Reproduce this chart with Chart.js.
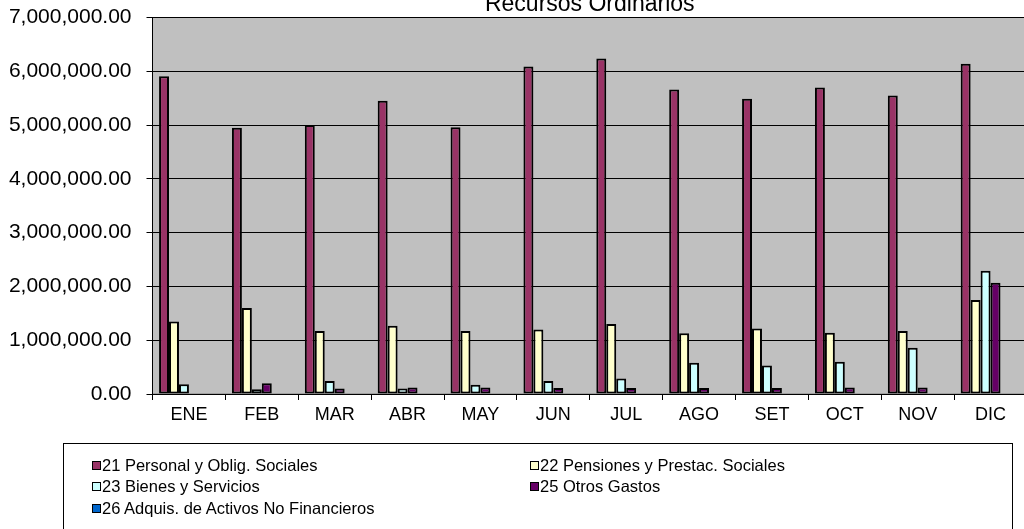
<!DOCTYPE html>
<html>
<head>
<meta charset="utf-8">
<script src="https://cdn.jsdelivr.net/npm/chart.js@4.4.1/dist/chart.umd.min.js"></script>
<style>
  html, body { margin: 0; padding: 0; background: #fff; overflow: hidden; width: 1024px; height: 529px; }
  #wrap { position: relative; width: 1024px; height: 529px; overflow: hidden; }
  #chart { position: absolute; left: 0; top: -20px; }
  #legend {
    position: absolute; left: 63px; top: 443px; width: 950px; height: 110px;
    border: 1px solid #000; box-sizing: border-box;
    font-family: Arial, "Liberation Sans", sans-serif; font-size: 16.5px; color: #000;
  }
  .item { position: absolute; white-space: nowrap; line-height: 18px; }
  .box { display: inline-block; width: 7px; height: 7px; border: 1px solid #000; margin-right: 1px; vertical-align: 1px; }
</style>
</head>
<body>
<div id="wrap">
  <canvas id="chart" width="1040" height="549"></canvas>
  <div id="legend"></div>
</div>
<script>
var title = 'Recursos Ordinarios';
var months = ['ENE', 'FEB', 'MAR', 'ABR', 'MAY', 'JUN', 'JUL', 'AGO', 'SET', 'OCT', 'NOV', 'DIC'];

var personal   = [5910000, 4950000, 5000000, 5450000, 4960000, 6090000, 6240000, 5660000, 5490000, 5700000, 5550000, 6140000];
var pensiones  = [1350000, 1600000, 1170000, 1270000, 1170000, 1200000, 1300000, 1130000, 1220000, 1140000, 1170000, 1750000];
var bienes     = [180000, 90000, 240000, 100000, 170000, 240000, 290000, 580000, 530000, 600000, 860000, 2290000];
var otros      = [0, 200000, 100000, 120000, 120000, 110000, 110000, 110000, 110000, 120000, 120000, 2070000];
var sinNombre  = [null, null, null, null, null, null, null, null, null, null, null, null];
var activos    = [0, 0, 0, 0, 0, 0, 0, 0, 0, 0, 0, 0];

var seriesNames = ['21 Personal y Oblig. Sociales', '22 Pensiones y Prestac. Sociales', '23 Bienes y Servicios', '25 Otros Gastos', '', '26 Adquis. de Activos No Financieros'];
var seriesData = [personal, pensiones, bienes, otros, sinNombre, activos];
var seriesColors = ['#993366', '#FFFFCC', '#CCFFFF', '#660066', '#FF8080', '#0066CC'];

var font = 'Arial, "Liberation Sans", sans-serif';

var plotBg = {
    id: 'plotBg',
    beforeDraw: function(chart) {
        var a = chart.chartArea, ctx = chart.ctx;
        ctx.save();
        ctx.fillStyle = '#C0C0C0';
        ctx.fillRect(a.left, a.top, a.right - a.left, a.bottom - a.top);
        ctx.strokeStyle = '#808080';
        ctx.lineWidth = 1;
        ctx.strokeRect(a.left, a.top, a.right - a.left, a.bottom - a.top);
        ctx.restore();
    },
    afterDraw: function(chart) {
        var a = chart.chartArea, ctx = chart.ctx;
        ctx.save();
        ctx.font = '23px ' + font;
        ctx.fillStyle = '#000';
        ctx.textAlign = 'center';
        ctx.textBaseline = 'alphabetic';
        ctx.fillText(title, (a.left + a.right) / 2, a.top - 7);
        ctx.restore();
    }
};

var datasets = seriesData.map(function(d, i) {
    return {
        label: seriesNames[i],
        data: d,
        backgroundColor: seriesColors[i],
        borderColor: '#000',
        borderWidth: 2,
        borderSkipped: false,
        categoryPercentage: 0.82,
        barPercentage: 1.0
    };
});

var config = {
    type: 'bar',
    data: { labels: months, datasets: datasets },
    options: {
        responsive: false,
        animation: false,
        layout: { padding: { top: 37.5, right: 13, bottom: 0, left: 0 } },
        plugins: {
            legend: { display: false },
            title: { display: false },
            tooltip: { enabled: false }
        },
        scales: {
            x: {
                grid: { display: true, drawOnChartArea: false, drawTicks: true, tickLength: 6, color: '#000', tickColor: '#000' },
                border: { display: true, color: '#000', width: 1 },
                ticks: { color: '#000', font: { family: font, size: 18 }, padding: 4, maxRotation: 0 },
                afterFit: function(scale) { scale.height = 135; }
            },
            y: {
                min: 0,
                max: 7000000,
                ticks: {
                    stepSize: 1000000,
                    color: '#000',
                    padding: 15,
                    font: { family: font, size: 21 },
                    callback: function(v) {
                        return Number(v).toLocaleString('en-US', { minimumFractionDigits: 2, maximumFractionDigits: 2 });
                    }
                },
                grid: { color: '#000', lineWidth: 1, tickLength: 6, tickColor: '#000' },
                border: { display: true, color: '#000', width: 1 },
                afterFit: function(scale) { scale.width = 152.5; }
            }
        }
    },
    plugins: [plotBg]
};

var legend = document.getElementById('legend');
var slots = [[28, 12], [466, 12], [28, 33], [466, 33], null, [28, 55]];
seriesNames.forEach(function(name, i) {
    if (!slots[i]) return;
    var el = document.createElement('div');
    el.className = 'item';
    el.style.left = slots[i][0] + 'px';
    el.style.top = slots[i][1] + 'px';
    el.innerHTML = '<span class="box" style="background:' + seriesColors[i] + '"></span>' + name;
    legend.appendChild(el);
});

window.onload = function() {
    var ctx = document.getElementById('chart').getContext('2d');
    new Chart(ctx, config);
};
</script>
</body>
</html>
